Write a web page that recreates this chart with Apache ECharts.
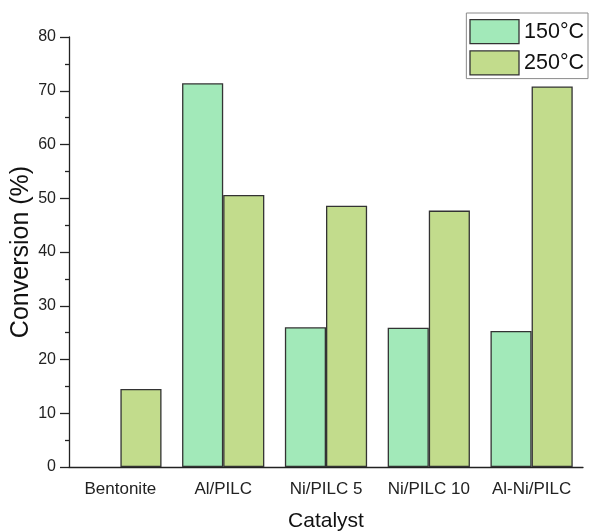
<!DOCTYPE html>
<html>
<head>
<meta charset="utf-8">
<script src="https://cdn.jsdelivr.net/npm/echarts@6/dist/echarts.min.js"></script>
<style>
html,body{margin:0;padding:0;background:#fff;}
#chart{width:598px;height:531px;}
</style>
</head>
<body>
<div id="chart"></div>
<script>
// Catalyst conversion at two reaction temperatures
const categories = ['Bentonite', 'Al/PILC', 'Ni/PILC 5', 'Ni/PILC 10', 'Al-Ni/PILC'];
const seriesNames = ['150\u00b0C', '250\u00b0C'];
const conv150 = [0, 71.4, 26.0, 25.9, 25.3];
const conv250 = [14.5, 50.6, 48.6, 47.7, 70.8];
const yTicks = [0, 10, 20, 30, 40, 50, 60, 70, 80];

const font = 'Liberation Sans, Arial, sans-serif';
const ink = '#222';
const chart = echarts.init(document.getElementById('chart'));

// zero-height bars get no outline so they vanish instead of drawing a flat line
function barData(values) {
  return values.map(v => v === 0 ? { value: v, itemStyle: { borderWidth: 0 } } : v);
}

chart.setOption({
  animation: false,
  backgroundColor: '#fff',
  grid: { left: 69, width: 514, top: 37, bottom: 64, outerBoundsMode: 'none', containLabel: false },
  legend: {
    data: seriesNames,
    orient: 'vertical',
    right: 10,
    top: 13,
    icon: 'rect',
    itemWidth: 49,
    itemHeight: 24,
    itemGap: 6,
    padding: [6, 4, 3, 3],
    borderColor: '#8a8a8a',
    borderWidth: 1,
    backgroundColor: '#fff',
    textStyle: { fontFamily: font, fontSize: 21.5, color: '#111' },
    itemStyle: { borderColor: '#333', borderWidth: 1.3 }
  },
  xAxis: [{
    type: 'category',
    data: categories,
    name: 'Catalyst',
    nameLocation: 'middle',
    nameGap: 44,
    nameMoveOverlap: false,
    nameTextStyle: { fontFamily: font, fontSize: 21, color: '#111' },
    axisLine: { lineStyle: { color: ink, width: 1.3 } },
    axisTick: { alignWithLabel: true, interval: 0, length: 8, lineStyle: { color: ink, width: 1.3 } },
    axisLabel: { interval: 0, hideOverlap: false, fontFamily: font, fontSize: 17, color: ink, margin: 14 },
    splitLine: { show: false }
  }, {
    type: 'category',
    data: categories,
    position: 'bottom',
    axisLine: { show: false },
    axisTick: { interval: 0, length: 5, lineStyle: { color: ink, width: 1.3 } },
    axisLabel: { show: false },
    splitLine: { show: false }
  }],
  yAxis: {
    type: 'value',
    min: yTicks[0],
    max: yTicks[yTicks.length - 1],
    interval: 10,
    name: 'Conversion (%)',
    nameLocation: 'middle',
    nameGap: 35,
    nameMoveOverlap: false,
    nameTextStyle: { fontFamily: font, fontSize: 25, color: '#111' },
    axisLine: { show: true, lineStyle: { color: ink, width: 1.3 } },
    axisTick: { show: true, length: 9, lineStyle: { color: ink, width: 1.3 } },
    minorTick: { show: true, splitNumber: 2, length: 4, lineStyle: { color: ink, width: 1.3 } },
    axisLabel: { fontFamily: font, fontSize: 16, color: ink, margin: 13 },
    splitLine: { show: false }
  },
  series: [{
    name: seriesNames[0],
    type: 'bar',
    data: barData(conv150),
    barGap: '0%',
    barCategoryGap: '20%',
    itemStyle: { color: '#a2e9b9', borderColor: '#333', borderWidth: 1.3 }
  }, {
    name: seriesNames[1],
    type: 'bar',
    data: barData(conv250),
    barGap: '0%',
    barCategoryGap: '20%',
    itemStyle: { color: '#c2dc8c', borderColor: '#333', borderWidth: 1.3 }
  }]
});
</script>
</body>
</html>
